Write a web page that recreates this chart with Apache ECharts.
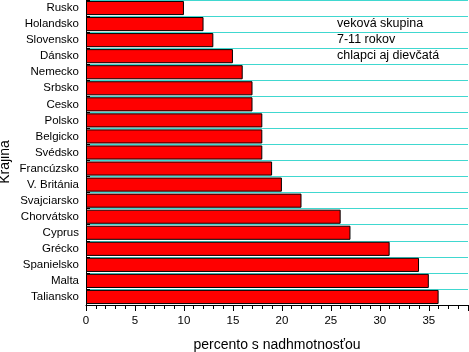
<!DOCTYPE html>
<html>
<head>
<meta charset="utf-8">
<script src="https://cdn.jsdelivr.net/npm/echarts@6/dist/echarts.min.js"></script>
<style>
  html, body { margin: 0; padding: 0; background: #fff; }
  #chart { width: 469px; height: 352px; }
</style>
</head>
<body>
<div id="chart"></div>
<script>
// krajiny zhora nadol
var krajiny = ['Rusko', 'Holandsko', 'Slovensko', 'Dánsko', 'Nemecko', 'Srbsko', 'Cesko', 'Polsko',
    'Belgicko', 'Svédsko', 'Francúzsko', 'V. Británia', 'Svajciarsko', 'Chorvátsko', 'Cyprus',
    'Grécko', 'Spanielsko', 'Malta', 'Taliansko'];
var percenta = [10, 12, 13, 15, 16, 17, 17, 18, 18, 18, 19, 20, 22, 26, 27, 31, 34, 35, 36];
var poznamka = ['veková skupina', '7-11 rokov', 'chlapci aj dievčatá'];

var font = 'Liberation Sans, Arial, sans-serif';
var myChart = echarts.init(document.getElementById('chart'));

var texty = poznamka.map(function (t, i) {
    return {
        type: 'text', left: 337, top: 17 + i * 16,
        style: { text: t, fontFamily: font, fontSize: 12.5, fill: '#000' }
    };
});
// nazov osi y
texty.push({
    type: 'text', x: 5, y: 162, rotation: Math.PI / 2,
    style: { text: 'Krajina', fontFamily: font, fontSize: 14, fill: '#000', align: 'center', verticalAlign: 'middle' }
});

var option = {
    animation: false,
    grid: { left: 86, top: 0, right: 1, bottom: 47, outerBoundsMode: 'none' },
    xAxis: {
        type: 'value', min: 0, max: 39, interval: 5,
        name: 'percento s nadhmotnosťou', nameLocation: 'middle', nameGap: 33,
        nameTextStyle: { fontFamily: font, fontSize: 14, color: '#000' },
        axisLine: { show: true, lineStyle: { color: '#000', width: 1 } },
        axisTick: { show: true, length: 6, lineStyle: { color: '#000' } },
        minorTick: { show: true, splitNumber: 5, length: 4, lineStyle: { color: '#000' } },
        axisLabel: { fontFamily: font, fontSize: 11.5, color: '#000', margin: 10, showMaxLabel: false },
        splitLine: { show: false }
    },
    yAxis: {
        type: 'category', data: krajiny, inverse: true,
        axisLine: { show: true, lineStyle: { color: '#000', width: 1 } },
        axisTick: { show: true, inside: true, length: 4, lineStyle: { color: '#000' } },
        axisLabel: { fontFamily: font, fontSize: 11.5, color: '#000', margin: 7 },
        splitLine: { show: true, lineStyle: { color: '#40d8d0', width: 1 } }
    },
    series: [{
        type: 'bar', data: percenta, barCategoryGap: '12%',
        itemStyle: { color: '#ff0000', borderColor: '#000', borderWidth: 1 }
    }],
    graphic: texty
};
myChart.setOption(option);
</script>
</body>
</html>
